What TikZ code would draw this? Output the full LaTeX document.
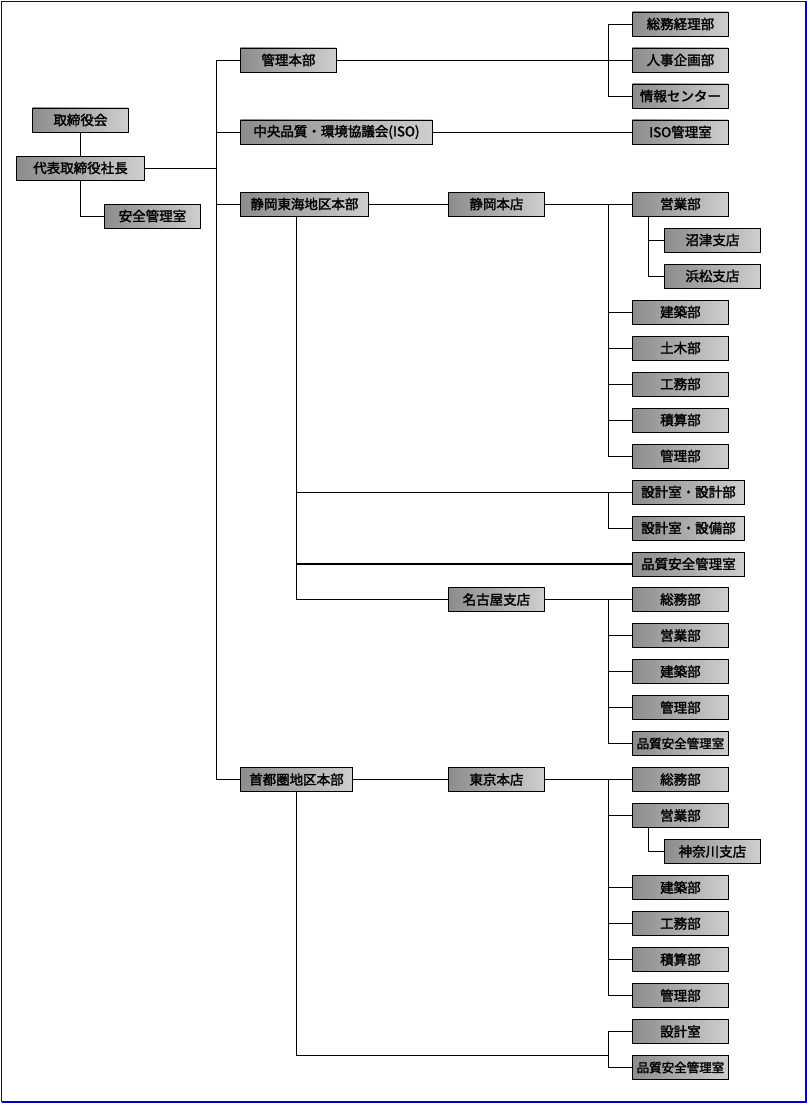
\documentclass[tikz,border=0pt]{standalone}
\usepackage{fontspec}
\newfontfamily\jpfont[FakeBold=2]{Noto Sans CJK JP}
\usepackage{tikz}
\usetikzlibrary{positioning}
\definecolor{boxdark}{RGB}{140,140,140}
\definecolor{boxlight}{RGB}{206,206,206}
\definecolor{frameblue}{RGB}{0,0,196}
\tikzset{
    orgbox/.style={
                draw=black,
                line width=0.9pt,
                anchor=west,
                minimum width=96pt,
                minimum height=24pt,
                inner sep=0pt,
                left color=boxdark,
                right color=boxlight,
                font=\jpfont\fontsize{13.5}{13.5}\selectfont
            },
        widebox/.style={
                orgbox,
                minimum width=112pt
            },
        smallbox/.style={
                orgbox,
                font=\jpfont\fontsize{12.5}{12.5}\selectfont
            },
        link/.style={
                draw=black,
                line width=0.9pt
            }
}
\begin{document}
\begin{tikzpicture}[x=1pt,y=-1pt]
  \useasboundingbox (0,0) rectangle (809,1105);
  % Frame
  \draw[frameblue,line width=1pt] (1.5,1.5) -- (1.5,1102);
  \draw[frameblue,line width=1pt] (1.5,1.5) -- (806,1.5);
  \draw[frameblue,line width=2pt] (806,1.5) -- (806,1102) -- (1.5,1102);
  % Top management
  \node[orgbox] (torishimari) at (32,120) {取締役会};
  \node[orgbox,minimum width=128pt] (shacho) at (16,168) {代表取締役社長};
  \node[orgbox] (anzen) at (104,216) {安全管理室};
  % Headquarters
  \node[orgbox] (kanri) at (240,60) {管理本部};
  \node[orgbox,minimum width=192pt] (isokyo) at (240,132) {中央品質・環境協議会(ISO)};
  \node[orgbox,minimum width=128pt] (shizuoka) at (240,204) {静岡東海地区本部};
  \node[widebox] (shuto) at (240,779.5) {首都圏地区本部};
  % Branches
  \node[orgbox] (shizhon) at (448,204) {静岡本店};
  \node[orgbox] (nagoya) at (448,599.5) {名古屋支店};
  \node[orgbox] (tokyo) at (448,779.5) {東京本店};
  % Departments of Kanri
  \node[orgbox] (somukeiri) at (632,24) {総務経理部};
  \node[orgbox] (jinji) at (632,60) {人事企画部};
  \node[orgbox] (joho) at (632,96) {情報センター};
  \node[orgbox] (isokan) at (632,132) {ISO管理室};
  % Departments of Shizuoka
  \node[orgbox] (s-eigyo) at (632,204) {営業部};
  \node[orgbox] (numazu) at (664,240) {沼津支店};
  \node[orgbox] (hamamatsu) at (664,276) {浜松支店};
  \node[orgbox] (s-kenchiku) at (632,312) {建築部};
  \node[orgbox] (s-doboku) at (632,348) {土木部};
  \node[orgbox] (s-komu) at (632,384) {工務部};
  \node[orgbox] (s-sekisan) at (632,420) {積算部};
  \node[orgbox] (s-kanri) at (632,456) {管理部};
  \node[widebox] (s-sekkei) at (632,492) {設計室・設計部};
  \node[widebox] (s-setsubi) at (632,528) {設計室・設備部};
  \node[widebox] (s-hinshitsu) at (632,564) {品質安全管理室};
  % Departments of Nagoya
  \node[orgbox] (n-somu) at (632,599.5) {総務部};
  \node[orgbox] (n-eigyo) at (632,635.5) {営業部};
  \node[orgbox] (n-kenchiku) at (632,671.5) {建築部};
  \node[orgbox] (n-kanri) at (632,707.5) {管理部};
  \node[smallbox] (n-hinshitsu) at (632,743.5) {品質安全管理室};
  % Departments of Tokyo
  \node[orgbox] (t-somu) at (632,779.5) {総務部};
  \node[orgbox] (t-eigyo) at (632,815.5) {営業部};
  \node[orgbox] (kanagawa) at (664,851.5) {神奈川支店};
  \node[orgbox] (t-kenchiku) at (632,887.5) {建築部};
  \node[orgbox] (t-komu) at (632,923.5) {工務部};
  \node[orgbox] (t-sekisan) at (632,959.5) {積算部};
  \node[orgbox] (t-kanri) at (632,995.5) {管理部};
  \node[orgbox] (t-sekkei) at (632,1031.5) {設計室};
  \node[smallbox] (t-hinshitsu) at (632,1067.5) {品質安全管理室};
  % Connectors
  \coordinate (trunk) at (216,60);
  \coordinate (kb) at (608,60);
  \coordinate (sd) at (296,216);
  \coordinate (tb) at (608,1055);
  \coordinate (seb) at (648,216);
  \coordinate (teb) at (648,827.5);
  \draw[link] (torishimari) -- (shacho);
  \draw[link] (shacho.south) |- (anzen.west);
  \draw[link] (kanri.west) -- (trunk) |- (shuto.west);
  \draw[link] (shacho.east) -- (shacho.east -| trunk);
  \foreach \n in {isokyo,shizuoka}
    \draw[link] (\n.west -| trunk) -- (\n.west);
  \draw[link] (kanri.east) -- (jinji.west);
  \draw[link] (somukeiri.west) -- (somukeiri.west -| kb) |- (joho.west);
  \draw[link] (isokyo.east) -- (isokan.west);
  \draw[link] (shizuoka.east) -- (shizhon.west);
  \draw[link] (shizhon.east) -- (s-eigyo.west);
  \draw[link] (s-eigyo.west -| kb) |- (s-kanri.west);
  \foreach \n in {s-kenchiku,s-doboku,s-komu,s-sekisan}
    \draw[link] (\n.west -| kb) -- (\n.west);
  \draw[link] (seb) |- (hamamatsu.west);
  \draw[link] (numazu.west -| seb) -- (numazu.west);
  \draw[link] (sd) |- (nagoya.west);
  \draw[link] (sd |- s-sekkei.west) -- (s-sekkei.west);
  \draw[link] (s-sekkei.west -| kb) |- (s-setsubi.west);
  \draw[link,line width=1.8pt] (sd |- s-hinshitsu.west) -- (s-hinshitsu.west);
  \draw[link] (nagoya.east) -- (n-somu.west);
  \draw[link] (n-somu.west -| kb) |- (n-hinshitsu.west);
  \foreach \n in {n-eigyo,n-kenchiku,n-kanri}
    \draw[link] (\n.west -| kb) -- (\n.west);
  \draw[link] (shuto.east) -- (tokyo.west);
  \draw[link] (tokyo.east) -- (t-somu.west);
  \draw[link] (t-somu.west -| kb) |- (t-kanri.west);
  \foreach \n in {t-eigyo,t-kenchiku,t-komu,t-sekisan}
    \draw[link] (\n.west -| kb) -- (\n.west);
  \draw[link] (teb) |- (kanagawa.west);
  \draw[link] (shuto.south) |- (tb);
  \draw[link] (t-sekkei.west) -- (t-sekkei.west -| kb) |- (t-hinshitsu.west);
\end{tikzpicture}
\end{document}
